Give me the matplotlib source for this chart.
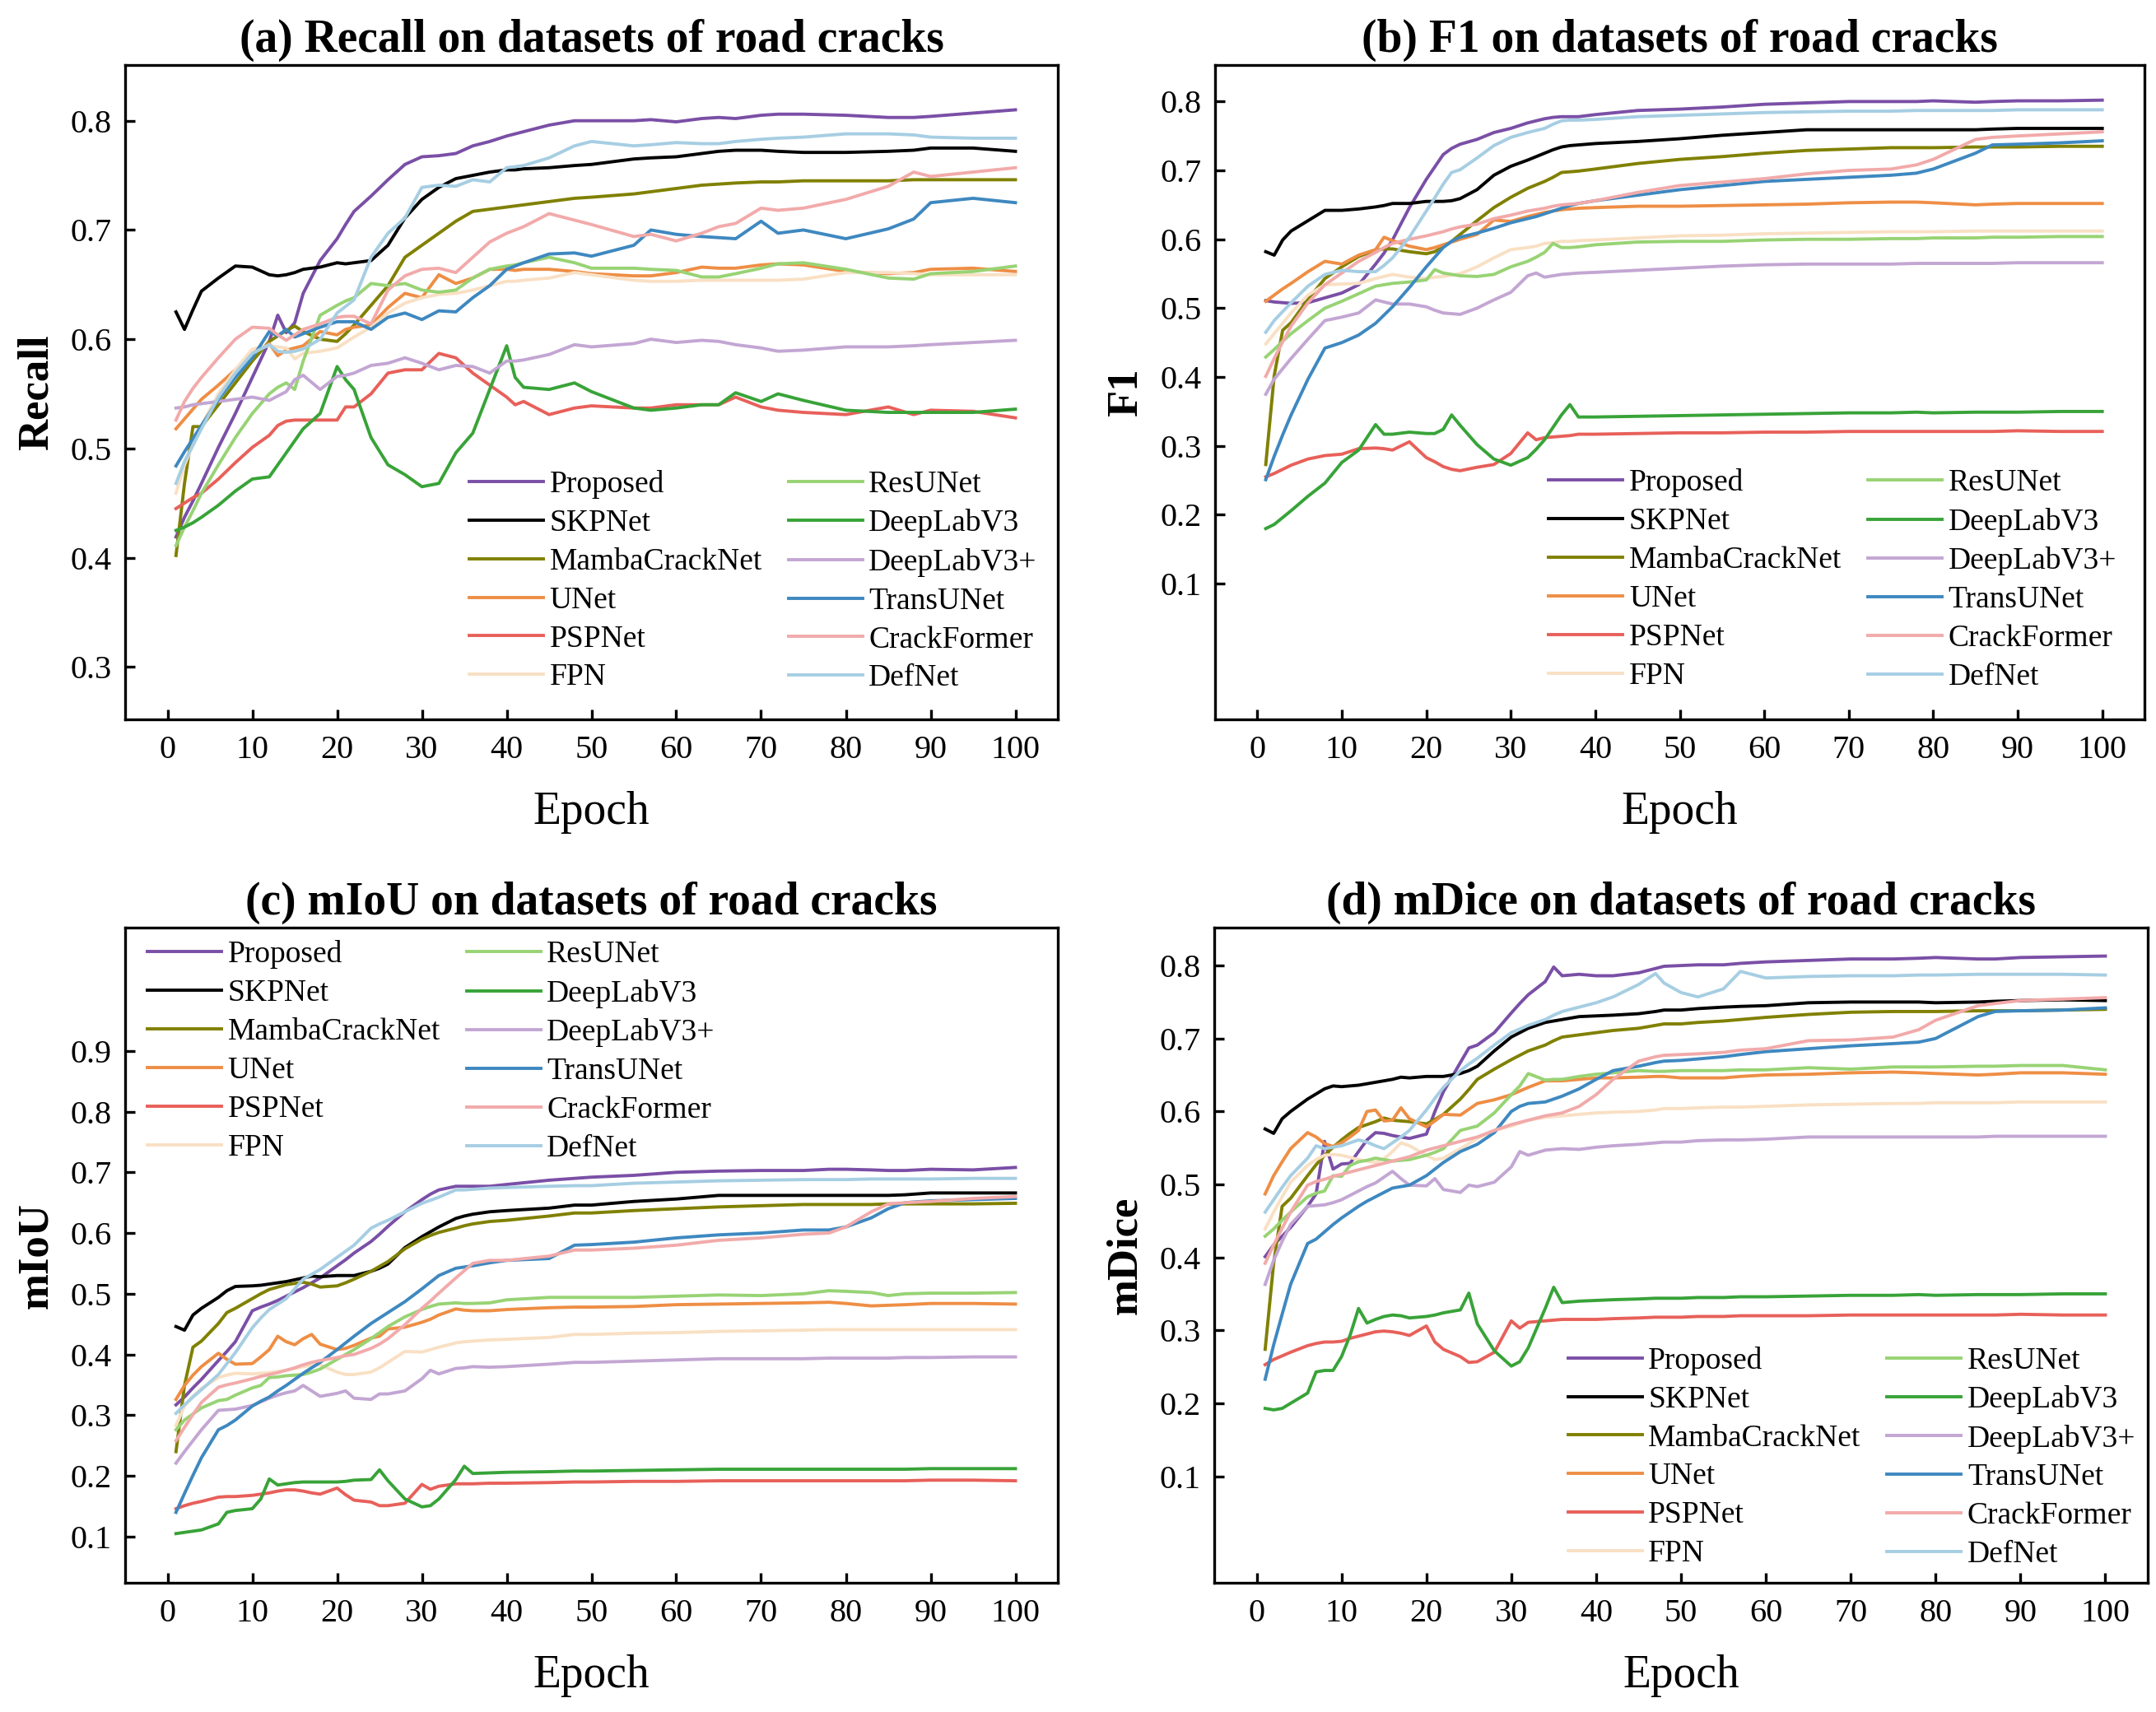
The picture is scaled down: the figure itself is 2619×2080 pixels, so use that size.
import matplotlib
matplotlib.use("Agg")
import matplotlib.pyplot as plt
from matplotlib.ticker import FormatStrFormatter

plt.rcParams['font.family'] = ['Liberation Serif', 'DejaVu Serif']

models = ["Proposed", "SKPNet", "MambaCrackNet", "UNet", "PSPNet", "FPN",
          "ResUNet", "DeepLabV3", "DeepLabV3+", "TransUNet", "CrackFormer", "DefNet"]
colors = ["#7A4FA6", "#000000", "#808000", "#EE8E45", "#E8605A", "#F9E0C4",
          "#98D374", "#38A338", "#C3A6D3", "#3E88C0", "#F2AAAA", "#A6CEE3"]

# ---------------- (a) Recall ----------------
recall_epochs = [1, 2, 3, 4, 6, 8, 10, 12, 13, 14, 15, 16, 18, 20, 21, 22, 24, 26, 28, 30, 32, 34, 36, 38,
                 40, 41, 42, 45, 48, 50, 55, 57, 60, 63, 65, 67, 70, 72, 75, 80, 85, 88, 90, 95, 100]
recall_proposed = [0.419, 0.437, 0.452, 0.468, 0.501, 0.532, 0.565, 0.598, 0.622, 0.606, 0.615, 0.642, 0.672, 0.692, 0.705, 0.717, 0.731, 0.746, 0.760, 0.767, 0.768, 0.770, 0.777, 0.781,
                   0.786, 0.788, 0.790, 0.796, 0.800, 0.800, 0.800, 0.801, 0.799, 0.802, 0.803, 0.802, 0.805, 0.806, 0.806, 0.805, 0.803, 0.803, 0.804, 0.807, 0.810]
recall_skpnet = [0.625, 0.609, 0.627, 0.644, 0.656, 0.667, 0.666, 0.659, 0.658, 0.659, 0.661, 0.664, 0.666, 0.670, 0.669, 0.670, 0.672, 0.686, 0.711, 0.728, 0.739, 0.747, 0.750, 0.753,
                 0.755, 0.755, 0.756, 0.757, 0.759, 0.760, 0.765, 0.766, 0.767, 0.770, 0.772, 0.773, 0.773, 0.772, 0.771, 0.771, 0.772, 0.773, 0.775, 0.775, 0.772]
recall_mamba = [0.402, 0.468, 0.520, 0.520, 0.540, 0.560, 0.580, 0.598, 0.603, 0.608, 0.612, 0.607, 0.600, 0.598, 0.605, 0.613, 0.631, 0.649, 0.675, 0.686, 0.697, 0.708, 0.717, 0.719,
                0.721, 0.722, 0.723, 0.726, 0.729, 0.730, 0.733, 0.735, 0.738, 0.741, 0.742, 0.743, 0.744, 0.744, 0.745, 0.745, 0.745, 0.746, 0.746, 0.746, 0.746]
recall_unet = [0.518, 0.527, 0.536, 0.545, 0.558, 0.572, 0.587, 0.596, 0.585, 0.590, 0.592, 0.594, 0.607, 0.604, 0.609, 0.611, 0.613, 0.629, 0.642, 0.638, 0.659, 0.651, 0.656, 0.664,
               0.664, 0.663, 0.664, 0.664, 0.662, 0.660, 0.658, 0.658, 0.661, 0.666, 0.665, 0.665, 0.668, 0.669, 0.668, 0.662, 0.660, 0.661, 0.664, 0.665, 0.662]
recall_pspnet = [0.445, 0.450, 0.455, 0.459, 0.472, 0.487, 0.501, 0.512, 0.521, 0.525, 0.526, 0.526, 0.526, 0.526, 0.538, 0.538, 0.550, 0.569, 0.572, 0.572, 0.587, 0.583, 0.569, 0.558,
                 0.547, 0.540, 0.543, 0.531, 0.537, 0.539, 0.537, 0.537, 0.540, 0.540, 0.540, 0.547, 0.538, 0.535, 0.533, 0.531, 0.538, 0.531, 0.535, 0.534, 0.528]
recall_fpn = [0.459, 0.485, 0.503, 0.521, 0.550, 0.572, 0.591, 0.594, 0.593, 0.592, 0.582, 0.587, 0.589, 0.592, 0.597, 0.602, 0.611, 0.624, 0.633, 0.638, 0.641, 0.642, 0.645, 0.649,
              0.653, 0.653, 0.654, 0.656, 0.661, 0.659, 0.654, 0.653, 0.653, 0.654, 0.654, 0.654, 0.654, 0.654, 0.655, 0.661, 0.661, 0.660, 0.659, 0.659, 0.659]
recall_resunet = [0.411, 0.428, 0.443, 0.459, 0.485, 0.510, 0.532, 0.550, 0.556, 0.560, 0.554, 0.580, 0.622, 0.631, 0.635, 0.638, 0.651, 0.649, 0.651, 0.645, 0.643, 0.645, 0.656, 0.664,
                  0.667, 0.668, 0.670, 0.675, 0.670, 0.665, 0.665, 0.664, 0.663, 0.657, 0.657, 0.660, 0.665, 0.669, 0.670, 0.664, 0.656, 0.655, 0.660, 0.662, 0.667]
recall_dlv3 = [0.425, 0.428, 0.432, 0.437, 0.448, 0.461, 0.472, 0.474, 0.485, 0.496, 0.507, 0.518, 0.532, 0.575, 0.563, 0.554, 0.510, 0.485, 0.476, 0.465, 0.468, 0.496, 0.514, 0.554,
               0.594, 0.565, 0.556, 0.554, 0.560, 0.552, 0.537, 0.535, 0.537, 0.540, 0.540, 0.551, 0.543, 0.550, 0.544, 0.535, 0.533, 0.533, 0.533, 0.533, 0.536]
recall_dlv3p = [0.537, 0.538, 0.540, 0.541, 0.543, 0.545, 0.547, 0.544, 0.548, 0.552, 0.563, 0.567, 0.554, 0.566, 0.567, 0.569, 0.576, 0.578, 0.583, 0.578, 0.572, 0.576, 0.575, 0.569,
                0.580, 0.580, 0.581, 0.586, 0.595, 0.593, 0.596, 0.600, 0.597, 0.599, 0.598, 0.595, 0.592, 0.589, 0.590, 0.593, 0.593, 0.594, 0.595, 0.597, 0.599]
recall_transunet = [0.484, 0.497, 0.509, 0.521, 0.545, 0.565, 0.583, 0.607, 0.603, 0.609, 0.602, 0.605, 0.611, 0.616, 0.616, 0.616, 0.609, 0.620, 0.624, 0.618, 0.626, 0.625, 0.638, 0.649,
                    0.664, 0.667, 0.670, 0.678, 0.679, 0.676, 0.686, 0.700, 0.696, 0.694, 0.693, 0.692, 0.708, 0.697, 0.700, 0.692, 0.701, 0.710, 0.725, 0.729, 0.725]
recall_crackformer = [0.526, 0.543, 0.555, 0.565, 0.583, 0.600, 0.611, 0.610, 0.604, 0.599, 0.604, 0.609, 0.614, 0.620, 0.621, 0.621, 0.614, 0.645, 0.658, 0.664, 0.665, 0.661, 0.675, 0.689,
                      0.697, 0.700, 0.703, 0.715, 0.709, 0.705, 0.694, 0.696, 0.690, 0.697, 0.703, 0.706, 0.720, 0.718, 0.720, 0.728, 0.740, 0.753, 0.749, 0.753, 0.757]
recall_defnet = [0.468, 0.488, 0.503, 0.518, 0.547, 0.569, 0.587, 0.595, 0.589, 0.588, 0.589, 0.591, 0.600, 0.624, 0.630, 0.636, 0.675, 0.697, 0.711, 0.739, 0.741, 0.740, 0.746, 0.744,
                 0.757, 0.758, 0.759, 0.766, 0.777, 0.781, 0.777, 0.778, 0.780, 0.779, 0.779, 0.781, 0.783, 0.784, 0.785, 0.788, 0.788, 0.787, 0.785, 0.784, 0.784]

# ---------------- (b) F1 ----------------
f1_epochs = [1, 2, 3, 4, 6, 8, 10, 12, 14, 15, 16, 18, 20, 21, 22, 23, 24, 26, 28, 30, 32, 33, 34, 35,
             36, 37, 38, 40, 45, 50, 55, 60, 65, 70, 75, 78, 80, 85, 87, 90, 95, 100]
f1_proposed = [0.511, 0.509, 0.508, 0.507, 0.508, 0.515, 0.522, 0.534, 0.564, 0.580, 0.599, 0.646, 0.687, 0.705, 0.723, 0.732, 0.738, 0.745, 0.755, 0.761, 0.769, 0.772, 0.775, 0.777,
               0.778, 0.778, 0.778, 0.781, 0.787, 0.789, 0.792, 0.796, 0.798, 0.800, 0.800, 0.800, 0.801, 0.799, 0.800, 0.801, 0.801, 0.802]
f1_skpnet = [0.582, 0.577, 0.599, 0.612, 0.627, 0.642, 0.642, 0.644, 0.647, 0.649, 0.652, 0.652, 0.655, 0.655, 0.655, 0.656, 0.659, 0.672, 0.693, 0.706, 0.715, 0.720, 0.725, 0.730,
             0.734, 0.736, 0.737, 0.739, 0.742, 0.746, 0.751, 0.755, 0.759, 0.759, 0.759, 0.759, 0.759, 0.759, 0.760, 0.761, 0.761, 0.761]
f1_mamba = [0.273, 0.402, 0.468, 0.479, 0.513, 0.543, 0.560, 0.575, 0.584, 0.586, 0.586, 0.582, 0.579, 0.582, 0.589, 0.597, 0.607, 0.627, 0.646, 0.661, 0.674, 0.679, 0.684, 0.690,
            0.697, 0.698, 0.699, 0.702, 0.710, 0.716, 0.720, 0.725, 0.729, 0.731, 0.733, 0.733, 0.733, 0.734, 0.734, 0.734, 0.735, 0.735]
f1_unet = [0.510, 0.519, 0.528, 0.536, 0.553, 0.568, 0.564, 0.577, 0.585, 0.603, 0.598, 0.590, 0.585, 0.588, 0.592, 0.596, 0.600, 0.607, 0.628, 0.626, 0.633, 0.636, 0.639, 0.641,
           0.643, 0.644, 0.645, 0.646, 0.648, 0.648, 0.649, 0.650, 0.651, 0.653, 0.654, 0.654, 0.653, 0.650, 0.651, 0.652, 0.652, 0.652]
f1_pspnet = [0.255, 0.260, 0.266, 0.272, 0.281, 0.286, 0.288, 0.296, 0.297, 0.296, 0.294, 0.306, 0.283, 0.277, 0.270, 0.266, 0.264, 0.269, 0.273, 0.289, 0.319, 0.309, 0.312, 0.313,
             0.314, 0.315, 0.317, 0.317, 0.318, 0.319, 0.319, 0.320, 0.320, 0.321, 0.321, 0.321, 0.321, 0.321, 0.321, 0.322, 0.321, 0.321]
f1_fpn = [0.448, 0.463, 0.478, 0.493, 0.519, 0.534, 0.535, 0.536, 0.543, 0.546, 0.549, 0.545, 0.543, 0.545, 0.546, 0.548, 0.550, 0.560, 0.573, 0.585, 0.588, 0.590, 0.594, 0.595,
          0.597, 0.597, 0.598, 0.599, 0.602, 0.605, 0.606, 0.608, 0.609, 0.610, 0.611, 0.611, 0.611, 0.612, 0.612, 0.612, 0.612, 0.612]
f1_resunet = [0.429, 0.440, 0.452, 0.463, 0.482, 0.500, 0.510, 0.521, 0.532, 0.534, 0.536, 0.538, 0.541, 0.556, 0.551, 0.549, 0.547, 0.546, 0.549, 0.560, 0.568, 0.574, 0.581, 0.594,
              0.588, 0.588, 0.589, 0.592, 0.596, 0.597, 0.597, 0.599, 0.600, 0.600, 0.601, 0.601, 0.602, 0.602, 0.603, 0.603, 0.604, 0.604]
f1_dlv3 = [0.180, 0.186, 0.196, 0.206, 0.227, 0.246, 0.276, 0.294, 0.331, 0.317, 0.317, 0.320, 0.318, 0.318, 0.324, 0.345, 0.330, 0.302, 0.281, 0.272, 0.283, 0.295, 0.309, 0.327,
           0.345, 0.360, 0.342, 0.342, 0.343, 0.344, 0.345, 0.346, 0.347, 0.348, 0.348, 0.349, 0.348, 0.349, 0.349, 0.349, 0.350, 0.350]
f1_dlv3p = [0.375, 0.397, 0.412, 0.427, 0.455, 0.482, 0.487, 0.493, 0.512, 0.509, 0.506, 0.506, 0.502, 0.497, 0.493, 0.492, 0.491, 0.500, 0.512, 0.523, 0.547, 0.551, 0.545, 0.547,
            0.549, 0.550, 0.551, 0.552, 0.555, 0.558, 0.561, 0.563, 0.564, 0.564, 0.564, 0.565, 0.565, 0.565, 0.565, 0.566, 0.566, 0.566]
f1_transunet = [0.251, 0.285, 0.316, 0.345, 0.397, 0.442, 0.450, 0.461, 0.478, 0.490, 0.502, 0.530, 0.560, 0.574, 0.588, 0.597, 0.603, 0.609, 0.616, 0.624, 0.630, 0.633, 0.637, 0.641,
                0.645, 0.649, 0.652, 0.656, 0.664, 0.672, 0.678, 0.684, 0.687, 0.690, 0.693, 0.696, 0.702, 0.725, 0.737, 0.738, 0.740, 0.743]
f1_crackformer = [0.401, 0.427, 0.451, 0.474, 0.508, 0.534, 0.551, 0.568, 0.581, 0.588, 0.594, 0.600, 0.605, 0.608, 0.611, 0.615, 0.618, 0.622, 0.630, 0.635, 0.641, 0.643, 0.645, 0.648,
                  0.650, 0.651, 0.652, 0.656, 0.668, 0.678, 0.683, 0.688, 0.695, 0.700, 0.702, 0.708, 0.716, 0.745, 0.748, 0.750, 0.753, 0.756]
f1_defnet = [0.465, 0.482, 0.495, 0.508, 0.532, 0.549, 0.555, 0.553, 0.553, 0.562, 0.573, 0.603, 0.641, 0.660, 0.680, 0.697, 0.701, 0.718, 0.736, 0.748, 0.755, 0.758, 0.761, 0.767,
             0.772, 0.773, 0.773, 0.774, 0.778, 0.780, 0.782, 0.784, 0.785, 0.786, 0.786, 0.787, 0.787, 0.787, 0.787, 0.788, 0.788, 0.788]

# ---------------- (c) mIoU ----------------
miou_epochs = [1, 2, 3, 4, 6, 7, 8, 10, 11, 12, 13, 14, 15, 16, 17, 18, 20, 21, 22, 24, 25, 26, 28, 30,
               31, 32, 34, 35, 36, 38, 40, 45, 48, 50, 55, 60, 65, 70, 75, 78, 80, 83, 85, 87, 90, 95, 100]
miou_proposed = [0.317, 0.330, 0.345, 0.359, 0.390, 0.405, 0.421, 0.472, 0.478, 0.483, 0.489, 0.496, 0.503, 0.510, 0.518, 0.526, 0.546, 0.556, 0.567, 0.586, 0.598, 0.611, 0.635, 0.655,
                 0.664, 0.671, 0.677, 0.677, 0.677, 0.677, 0.680, 0.687, 0.690, 0.692, 0.695, 0.700, 0.702, 0.703, 0.703, 0.705, 0.705, 0.704, 0.703, 0.703, 0.705, 0.704, 0.708]
miou_skpnet = [0.446, 0.440, 0.465, 0.476, 0.494, 0.505, 0.512, 0.513, 0.514, 0.516, 0.518, 0.520, 0.523, 0.526, 0.529, 0.528, 0.530, 0.530, 0.530, 0.537, 0.542, 0.549, 0.576, 0.594,
               0.602, 0.610, 0.624, 0.628, 0.631, 0.635, 0.637, 0.641, 0.646, 0.646, 0.652, 0.656, 0.662, 0.662, 0.662, 0.662, 0.662, 0.662, 0.662, 0.663, 0.666, 0.666, 0.666]
miou_mamba = [0.240, 0.349, 0.412, 0.422, 0.451, 0.469, 0.476, 0.492, 0.500, 0.507, 0.511, 0.515, 0.517, 0.519, 0.516, 0.511, 0.513, 0.518, 0.524, 0.537, 0.545, 0.553, 0.574, 0.590,
              0.596, 0.601, 0.608, 0.612, 0.615, 0.619, 0.621, 0.628, 0.633, 0.633, 0.637, 0.640, 0.643, 0.645, 0.647, 0.647, 0.647, 0.647, 0.648, 0.648, 0.648, 0.648, 0.649]
miou_unet = [0.326, 0.349, 0.366, 0.380, 0.402, 0.392, 0.384, 0.385, 0.396, 0.408, 0.430, 0.421, 0.416, 0.426, 0.433, 0.417, 0.408, 0.410, 0.415, 0.427, 0.430, 0.442, 0.445, 0.453,
             0.458, 0.465, 0.475, 0.473, 0.472, 0.472, 0.474, 0.477, 0.478, 0.478, 0.479, 0.482, 0.483, 0.484, 0.485, 0.486, 0.484, 0.480, 0.481, 0.482, 0.484, 0.484, 0.483]
miou_pspnet = [0.146, 0.151, 0.155, 0.158, 0.165, 0.166, 0.166, 0.168, 0.170, 0.172, 0.175, 0.177, 0.177, 0.175, 0.172, 0.170, 0.180, 0.169, 0.160, 0.157, 0.151, 0.151, 0.155, 0.186,
               0.178, 0.183, 0.187, 0.187, 0.187, 0.188, 0.188, 0.189, 0.190, 0.190, 0.191, 0.191, 0.192, 0.192, 0.192, 0.192, 0.192, 0.192, 0.192, 0.192, 0.193, 0.193, 0.192]
miou_fpn = [0.283, 0.315, 0.331, 0.344, 0.362, 0.366, 0.369, 0.368, 0.369, 0.370, 0.372, 0.374, 0.377, 0.380, 0.382, 0.383, 0.371, 0.367, 0.367, 0.371, 0.378, 0.387, 0.405, 0.404,
            0.408, 0.412, 0.419, 0.421, 0.422, 0.424, 0.425, 0.428, 0.433, 0.433, 0.435, 0.436, 0.438, 0.439, 0.440, 0.441, 0.441, 0.441, 0.441, 0.441, 0.441, 0.441, 0.441]
miou_resunet = [0.276, 0.292, 0.302, 0.312, 0.324, 0.326, 0.333, 0.345, 0.349, 0.362, 0.363, 0.365, 0.366, 0.367, 0.371, 0.376, 0.392, 0.400, 0.408, 0.426, 0.436, 0.446, 0.462, 0.474,
                0.479, 0.483, 0.485, 0.484, 0.484, 0.485, 0.490, 0.494, 0.494, 0.494, 0.494, 0.496, 0.498, 0.497, 0.500, 0.505, 0.504, 0.502, 0.497, 0.500, 0.501, 0.501, 0.502]
miou_dlv3 = [0.105, 0.107, 0.109, 0.111, 0.121, 0.140, 0.143, 0.146, 0.162, 0.195, 0.185, 0.187, 0.189, 0.190, 0.190, 0.190, 0.190, 0.191, 0.193, 0.194, 0.210, 0.192, 0.162, 0.149,
             0.151, 0.162, 0.194, 0.216, 0.204, 0.205, 0.206, 0.207, 0.208, 0.208, 0.209, 0.210, 0.211, 0.211, 0.211, 0.211, 0.211, 0.211, 0.211, 0.211, 0.212, 0.212, 0.212]
miou_dlv3p = [0.221, 0.240, 0.258, 0.276, 0.308, 0.309, 0.310, 0.316, 0.322, 0.328, 0.333, 0.337, 0.340, 0.349, 0.340, 0.331, 0.336, 0.340, 0.328, 0.326, 0.335, 0.335, 0.340, 0.360,
              0.374, 0.368, 0.377, 0.378, 0.380, 0.379, 0.380, 0.384, 0.387, 0.387, 0.389, 0.391, 0.393, 0.393, 0.393, 0.394, 0.394, 0.394, 0.394, 0.395, 0.395, 0.396, 0.396]
miou_transunet = [0.140, 0.171, 0.201, 0.230, 0.276, 0.283, 0.292, 0.315, 0.323, 0.330, 0.340, 0.349, 0.359, 0.369, 0.378, 0.387, 0.408, 0.419, 0.430, 0.451, 0.460, 0.469, 0.487, 0.508,
                  0.519, 0.530, 0.542, 0.544, 0.546, 0.551, 0.555, 0.558, 0.580, 0.581, 0.585, 0.592, 0.597, 0.600, 0.605, 0.605, 0.610, 0.625, 0.640, 0.650, 0.653, 0.655, 0.657]
miou_crackformer = [0.258, 0.280, 0.301, 0.321, 0.346, 0.350, 0.353, 0.360, 0.364, 0.367, 0.370, 0.374, 0.378, 0.383, 0.387, 0.390, 0.395, 0.398, 0.400, 0.410, 0.417, 0.426, 0.449, 0.476,
                    0.488, 0.501, 0.526, 0.538, 0.550, 0.555, 0.555, 0.562, 0.572, 0.572, 0.575, 0.580, 0.588, 0.592, 0.598, 0.600, 0.610, 0.635, 0.648, 0.650, 0.652, 0.657, 0.660]
miou_defnet = [0.303, 0.317, 0.330, 0.342, 0.367, 0.385, 0.403, 0.444, 0.460, 0.474, 0.483, 0.492, 0.508, 0.524, 0.532, 0.540, 0.560, 0.570, 0.580, 0.608, 0.615, 0.621, 0.635, 0.649,
               0.654, 0.659, 0.671, 0.671, 0.672, 0.674, 0.675, 0.677, 0.678, 0.678, 0.682, 0.684, 0.686, 0.687, 0.688, 0.688, 0.688, 0.689, 0.689, 0.689, 0.689, 0.690, 0.690]

# ---------------- (d) mDice ----------------
mdice_epochs = [1, 2, 3, 4, 6, 7, 8, 9, 10, 11, 12, 13, 14, 15, 16, 17, 18, 20, 21, 22, 24, 25, 26, 28,
                30, 31, 32, 34, 35, 36, 38, 40, 42, 45, 47, 48, 50, 52, 55, 57, 60, 65, 70, 75, 78, 80, 85, 87, 90, 95, 100]
mdice_proposed = [0.401, 0.417, 0.429, 0.441, 0.470, 0.487, 0.559, 0.521, 0.528, 0.529, 0.545, 0.561, 0.571, 0.570, 0.567, 0.565, 0.563, 0.569, 0.600, 0.627, 0.667, 0.687, 0.691, 0.708,
                  0.735, 0.748, 0.760, 0.778, 0.798, 0.786, 0.788, 0.786, 0.786, 0.790, 0.796, 0.799, 0.800, 0.801, 0.801, 0.803, 0.805, 0.807, 0.809, 0.809, 0.810, 0.811, 0.809, 0.809, 0.811, 0.812, 0.813]
mdice_skpnet = [0.576, 0.570, 0.590, 0.600, 0.617, 0.624, 0.631, 0.635, 0.634, 0.635, 0.636, 0.638, 0.640, 0.642, 0.644, 0.647, 0.646, 0.648, 0.648, 0.648, 0.652, 0.656, 0.662, 0.683,
                0.702, 0.708, 0.714, 0.722, 0.724, 0.726, 0.730, 0.731, 0.732, 0.734, 0.737, 0.739, 0.739, 0.741, 0.743, 0.744, 0.745, 0.749, 0.750, 0.750, 0.750, 0.749, 0.750, 0.751, 0.752, 0.753, 0.752]
mdice_mamba = [0.274, 0.392, 0.470, 0.481, 0.512, 0.527, 0.540, 0.551, 0.561, 0.570, 0.578, 0.582, 0.586, 0.591, 0.588, 0.587, 0.586, 0.583, 0.589, 0.596, 0.617, 0.630, 0.644, 0.658,
               0.671, 0.677, 0.683, 0.691, 0.697, 0.702, 0.705, 0.708, 0.711, 0.714, 0.718, 0.720, 0.720, 0.722, 0.724, 0.726, 0.729, 0.733, 0.736, 0.737, 0.737, 0.737, 0.738, 0.738, 0.738, 0.739, 0.740]
mdice_unet = [0.487, 0.512, 0.531, 0.549, 0.571, 0.565, 0.556, 0.552, 0.557, 0.565, 0.574, 0.600, 0.602, 0.587, 0.588, 0.605, 0.590, 0.579, 0.587, 0.596, 0.595, 0.603, 0.611, 0.616,
              0.623, 0.628, 0.633, 0.642, 0.642, 0.642, 0.644, 0.646, 0.646, 0.647, 0.648, 0.648, 0.646, 0.646, 0.646, 0.648, 0.650, 0.651, 0.653, 0.654, 0.653, 0.652, 0.650, 0.651, 0.653, 0.653, 0.651]
mdice_pspnet = [0.253, 0.260, 0.265, 0.270, 0.279, 0.282, 0.284, 0.284, 0.285, 0.289, 0.292, 0.295, 0.298, 0.299, 0.298, 0.296, 0.293, 0.306, 0.284, 0.274, 0.264, 0.256, 0.257, 0.270,
                0.313, 0.303, 0.311, 0.313, 0.314, 0.315, 0.315, 0.315, 0.316, 0.317, 0.318, 0.318, 0.318, 0.319, 0.319, 0.320, 0.320, 0.320, 0.321, 0.321, 0.321, 0.321, 0.321, 0.321, 0.322, 0.321, 0.321]
mdice_fpn = [0.439, 0.462, 0.483, 0.503, 0.526, 0.534, 0.540, 0.541, 0.540, 0.537, 0.534, 0.532, 0.530, 0.535, 0.545, 0.557, 0.553, 0.540, 0.534, 0.536, 0.549, 0.556, 0.563, 0.574,
             0.580, 0.584, 0.588, 0.592, 0.593, 0.594, 0.596, 0.598, 0.599, 0.600, 0.602, 0.604, 0.604, 0.605, 0.606, 0.606, 0.607, 0.609, 0.610, 0.611, 0.611, 0.612, 0.612, 0.612, 0.613, 0.613, 0.613]
mdice_resunet = [0.429, 0.439, 0.451, 0.462, 0.483, 0.488, 0.491, 0.512, 0.511, 0.526, 0.531, 0.533, 0.536, 0.534, 0.532, 0.533, 0.534, 0.540, 0.544, 0.549, 0.574, 0.577, 0.580, 0.598,
                 0.623, 0.635, 0.652, 0.643, 0.644, 0.644, 0.648, 0.651, 0.653, 0.656, 0.655, 0.655, 0.656, 0.656, 0.656, 0.657, 0.657, 0.660, 0.658, 0.661, 0.661, 0.661, 0.662, 0.662, 0.663, 0.663, 0.657]
mdice_dlv3 = [0.193, 0.191, 0.193, 0.200, 0.214, 0.243, 0.245, 0.245, 0.264, 0.293, 0.330, 0.310, 0.315, 0.319, 0.321, 0.320, 0.317, 0.319, 0.321, 0.324, 0.328, 0.351, 0.309, 0.272,
              0.251, 0.257, 0.276, 0.330, 0.359, 0.338, 0.340, 0.341, 0.342, 0.343, 0.344, 0.344, 0.344, 0.345, 0.345, 0.346, 0.346, 0.347, 0.348, 0.348, 0.349, 0.348, 0.349, 0.349, 0.349, 0.350, 0.350]
mdice_dlv3p = [0.363, 0.396, 0.422, 0.445, 0.470, 0.471, 0.472, 0.475, 0.479, 0.485, 0.491, 0.497, 0.502, 0.510, 0.518, 0.508, 0.499, 0.498, 0.508, 0.493, 0.489, 0.499, 0.497, 0.503,
               0.524, 0.545, 0.540, 0.547, 0.548, 0.549, 0.548, 0.551, 0.553, 0.555, 0.557, 0.558, 0.558, 0.560, 0.561, 0.561, 0.562, 0.565, 0.565, 0.565, 0.565, 0.565, 0.565, 0.566, 0.566, 0.566, 0.566]
mdice_transunet = [0.233, 0.280, 0.322, 0.363, 0.419, 0.425, 0.435, 0.445, 0.454, 0.462, 0.470, 0.477, 0.483, 0.489, 0.495, 0.497, 0.499, 0.512, 0.521, 0.530, 0.545, 0.550, 0.555, 0.571,
                   0.600, 0.607, 0.611, 0.613, 0.617, 0.621, 0.631, 0.644, 0.656, 0.662, 0.667, 0.669, 0.670, 0.672, 0.675, 0.678, 0.682, 0.686, 0.690, 0.693, 0.695, 0.700, 0.730, 0.737, 0.738, 0.739, 0.742]
mdice_crackformer = [0.392, 0.417, 0.440, 0.462, 0.499, 0.504, 0.507, 0.511, 0.514, 0.517, 0.520, 0.523, 0.526, 0.529, 0.532, 0.535, 0.538, 0.547, 0.550, 0.553, 0.559, 0.562, 0.565, 0.574,
                     0.582, 0.585, 0.588, 0.594, 0.596, 0.598, 0.607, 0.623, 0.644, 0.669, 0.675, 0.677, 0.678, 0.679, 0.681, 0.684, 0.686, 0.697, 0.698, 0.702, 0.712, 0.725, 0.745, 0.748, 0.752, 0.754, 0.756]
mdice_defnet = [0.462, 0.479, 0.496, 0.512, 0.536, 0.553, 0.549, 0.551, 0.553, 0.557, 0.561, 0.558, 0.553, 0.549, 0.557, 0.565, 0.574, 0.602, 0.618, 0.633, 0.656, 0.665, 0.673, 0.691,
                0.708, 0.713, 0.718, 0.726, 0.732, 0.737, 0.743, 0.749, 0.757, 0.774, 0.789, 0.776, 0.763, 0.757, 0.768, 0.792, 0.783, 0.785, 0.786, 0.786, 0.787, 0.787, 0.788, 0.788, 0.788, 0.788, 0.787]

panels = [
    ("(a) Recall on datasets of road cracks", "Recall", recall_epochs,
     [recall_proposed, recall_skpnet, recall_mamba, recall_unet, recall_pspnet, recall_fpn,
      recall_resunet, recall_dlv3, recall_dlv3p, recall_transunet, recall_crackformer, recall_defnet]),
    ("(b) F1 on datasets of road cracks", "F1", f1_epochs,
     [f1_proposed, f1_skpnet, f1_mamba, f1_unet, f1_pspnet, f1_fpn,
      f1_resunet, f1_dlv3, f1_dlv3p, f1_transunet, f1_crackformer, f1_defnet]),
    ("(c) mIoU on datasets of road cracks", "mIoU", miou_epochs,
     [miou_proposed, miou_skpnet, miou_mamba, miou_unet, miou_pspnet, miou_fpn,
      miou_resunet, miou_dlv3, miou_dlv3p, miou_transunet, miou_crackformer, miou_defnet]),
    ("(d) mDice on datasets of road cracks", "mDice", mdice_epochs,
     [mdice_proposed, mdice_skpnet, mdice_mamba, mdice_unet, mdice_pspnet, mdice_fpn,
      mdice_resunet, mdice_dlv3, mdice_dlv3p, mdice_transunet, mdice_crackformer, mdice_defnet]),
]

for title, _, ep, series in panels:
    for name, s in zip(models, series):
        if len(s) != len(ep):
            raise ValueError(f"{title} {name}: {len(s)} vs {len(ep)}")

W, H = 2619, 2080
fig = plt.figure(figsize=(W / 100, H / 100), dpi=100)
rects = [
    (152, 79, 1285, 874),
    (1476, 79, 2605, 874),
    (152, 1127, 1285, 1923),
    (1475, 1127, 2609, 1923),
]
ylims = [(0.252, 0.851), (-0.097, 0.853), (0.024, 1.103), (-0.046, 0.852)]
yticks = [[0.3, 0.4, 0.5, 0.6, 0.7, 0.8],
          [0.1, 0.2, 0.3, 0.4, 0.5, 0.6, 0.7, 0.8],
          [0.1, 0.2, 0.3, 0.4, 0.5, 0.6, 0.7, 0.8, 0.9],
          [0.1, 0.2, 0.3, 0.4, 0.5, 0.6, 0.7, 0.8]]
legend_anchor = [(0.369, 0.211), (0.359, 0.213), (0.024, 0.811), (0.379, 0.191)]

for i, (title, ylab, ep, series) in enumerate(panels):
    l, t, r, b = rects[i]
    ax = fig.add_axes([l / W, 1 - b / H, (r - l) / W, (b - t) / H])
    for name, col, s in zip(models, colors, series):
        ax.plot(ep, s, color=col, lw=2.8, label=name)
    ax.set_xlim(-5, 105)
    ax.set_xticks(range(0, 101, 10))
    ax.set_ylim(*ylims[i])
    ax.set_yticks(yticks[i])
    ax.yaxis.set_major_formatter(FormatStrFormatter('%.1f'))
    ax.tick_params(direction='in', length=8.5, width=2.4, labelsize=29, pad=12)
    ax.tick_params(axis='x', pad=14)
    for sp in ax.spines.values():
        sp.set_linewidth(2.4)
    ax.set_title(title, fontsize=40, fontweight='bold', pad=12)
    ax.set_xlabel("Epoch", fontsize=40, labelpad=22)
    ax.set_ylabel(ylab, fontsize=38, fontweight='bold', labelpad=12)
    ax.legend(ncol=2, loc='center left', bbox_to_anchor=legend_anchor[i], frameon=False,
              fontsize=27, handlelength=2.4, handletextpad=0.2, columnspacing=0.85,
              labelspacing=0.33, borderpad=0, borderaxespad=0)

fig.savefig("out.png", dpi=100)
